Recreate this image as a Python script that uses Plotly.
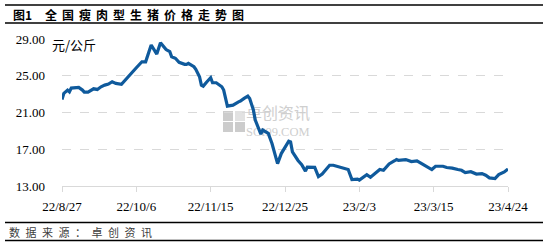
import plotly.graph_objects as go

dates = [
    "2022-08-27", "2022-08-28", "2022-08-30", "2022-08-31", "2022-09-01", "2022-09-03",
    "2022-09-05", "2022-09-07", "2022-09-08", "2022-09-10", "2022-09-12", "2022-09-13",
    "2022-09-15", "2022-09-17", "2022-09-19", "2022-09-21", "2022-09-23", "2022-09-25",
    "2022-09-28", "2022-09-30", "2022-10-03", "2022-10-06", "2022-10-09", "2022-10-11",
    "2022-10-14", "2022-10-17", "2022-10-19", "2022-10-22", "2022-10-24", "2022-10-25",
    "2022-10-27", "2022-10-29", "2022-11-01", "2022-11-02", "2022-11-03", "2022-11-06",
    "2022-11-07", "2022-11-09", "2022-11-10", "2022-11-11", "2022-11-13", "2022-11-15",
    "2022-11-16", "2022-11-18", "2022-11-21", "2022-11-22", "2022-11-24", "2022-11-27",
    "2022-11-30", "2022-12-01", "2022-12-03", "2022-12-05", "2022-12-06", "2022-12-08",
    "2022-12-09", "2022-12-12", "2022-12-13", "2022-12-16", "2022-12-18", "2022-12-21",
    "2022-12-23", "2022-12-27", "2022-12-28", "2022-12-29", "2023-01-01", "2023-01-03",
    "2023-01-05", "2023-01-06", "2023-01-10", "2023-01-12", "2023-01-14", "2023-01-16",
    "2023-01-18", "2023-01-20", "2023-01-28", "2023-01-30", "2023-02-02", "2023-02-03",
    "2023-02-07", "2023-02-09", "2023-02-12", "2023-02-14", "2023-02-16", "2023-02-19",
    "2023-02-22", "2023-02-23", "2023-02-24", "2023-02-28", "2023-03-03", "2023-03-06",
    "2023-03-09", "2023-03-14", "2023-03-16", "2023-03-20", "2023-03-22", "2023-03-25",
    "2023-03-28", "2023-03-30", "2023-04-01", "2023-04-04", "2023-04-07", "2023-04-10",
    "2023-04-12", "2023-04-14", "2023-04-17", "2023-04-19", "2023-04-22", "2023-04-24",
]
prices = [
    22.42, 23.08, 23.44, 23.25, 23.66, 23.73,
    23.73, 23.44, 23.22, 23.22, 23.44, 23.58,
    23.51, 23.80, 23.98, 24.09, 24.35, 24.17,
    24.06, 24.53, 25.26, 25.87, 26.52, 26.52,
    28.35, 27.36, 28.60, 27.85, 27.62, 27.07,
    26.90, 26.46, 26.24, 26.24, 26.35, 25.98,
    25.70, 24.89, 23.98, 23.87, 24.35, 24.78,
    24.24, 24.24, 23.80, 23.44, 21.69, 21.80,
    22.16, 22.24, 22.53, 22.78, 22.53, 21.26,
    20.17, 18.64, 19.08, 18.72, 17.63, 15.44,
    16.53, 17.88, 17.80, 16.71, 15.78, 15.33,
    14.62, 15.05, 15.03, 14.02, 14.30, 14.85,
    15.26, 15.26, 14.79, 13.70, 13.75, 13.65,
    14.24, 13.95, 14.45, 14.79, 14.71, 15.40,
    15.75, 15.88, 15.80, 15.88, 15.66, 15.73,
    15.37, 14.79, 15.15, 15.15, 15.01, 14.95,
    14.79, 14.71, 14.46, 14.55, 14.30, 14.35,
    14.17, 13.88, 13.81, 14.24, 14.53, 14.85,
]

tick_dates = ["2022-08-27", "2022-10-06", "2022-11-15", "2022-12-25",
              "2023-02-03", "2023-03-15", "2023-04-24"]
tick_labels = ["22/8/27", "22/10/6", "22/11/15", "22/12/25", "23/2/3", "23/3/15", "23/4/24"]
y_ticks = [13, 17, 21, 25, 29]
y_labels = ["13.00", "17.00", "21.00", "25.00", "29.00"]

title_label = "图1"
title_chars = list("全国瘦肉型生猪价格走势图")
source_text = "数\u2002据\u2002来\u2002源\u2002：\u2002卓\u2002创\u2002资\u2002讯"
unit_text = "元/公斤"
wm_name = "卓创资讯"
wm_site = "SCI99.COM"

W, H = 556, 243
L, R, T, B = 62, 48, 39, 57
pw, ph = W - L - R, H - T - B


def px(x):
    return (x - L) / pw


def py(y):
    return (H - B - y) / ph


fig = go.Figure()

# watermark text (drawn under the line)
fig.add_trace(go.Scatter(
    x=["2022-12-04"], y=[20.7], mode="text", text=[wm_name], textposition="middle right",
    textfont=dict(family="Noto Sans CJK SC", size=16, color="#cfcfcf"),
    hoverinfo="skip", showlegend=False,
))
fig.add_trace(go.Scatter(
    x=["2022-12-04"], y=[18.75], mode="text", text=[wm_site], textposition="middle right",
    textfont=dict(family="Liberation Serif", size=12.5, color="#cfcfcf"),
    hoverinfo="skip", showlegend=False,
))

fig.add_trace(go.Scatter(
    x=dates, y=prices, mode="lines",
    line=dict(color="#0F5A9C", width=3.2, shape="linear"),
    hoverinfo="skip", showlegend=False,
))

# watermark logo squares
for (x0, y0, x1, y1, c) in [(223, 111, 233, 121, "#cccccc"), (235, 111, 245, 121, "#e2e2e2"),
                             (223, 122, 233, 132, "#cccccc"), (235, 122, 245, 132, "#cccccc")]:
    fig.add_shape(type="rect", xref="paper", yref="paper",
                  x0=px(x0), x1=px(x1), y0=py(y1), y1=py(y0),
                  fillcolor=c, line=dict(width=0), layer="below")

# header / footer rules
for yy in [5, 23, 222.5, 240.5]:
    fig.add_shape(type="line", xref="paper", yref="paper",
                  x0=px(5), x1=px(543), y0=py(yy), y1=py(yy),
                  line=dict(color="#000000", width=1.6))

title_font = dict(family="Noto Sans CJK SC", size=12, color="#000000")
fig.add_annotation(xref="paper", yref="paper", x=px(11), y=py(14), xanchor="left", yanchor="middle",
                   text="<b>" + title_label + "</b>", showarrow=False, font=title_font)
for i, ch in enumerate(title_chars):
    fig.add_annotation(xref="paper", yref="paper", x=px(51 + 17.0 * i), y=py(14),
                       xanchor="center", yanchor="middle",
                       text="<b>" + ch + "</b>", showarrow=False, font=title_font)

fig.add_annotation(xref="paper", yref="paper", x=px(7), y=py(232), xanchor="left", yanchor="middle",
                   text=source_text, showarrow=False,
                   font=dict(family="Noto Sans CJK SC", size=11, color="#404040"))
fig.add_annotation(xref="paper", yref="paper", x=px(50), y=py(44), xanchor="left", yanchor="middle",
                   text=unit_text, showarrow=False,
                   font=dict(family="Noto Sans CJK SC", size=13, color="#000000"))

fig.update_layout(
    width=W, height=H,
    margin=dict(l=L, r=R, t=T, b=B),
    paper_bgcolor="#ffffff", plot_bgcolor="#ffffff",
    showlegend=False,
)
fig.update_xaxes(
    type="date", range=["2022-08-27", "2023-04-24"],
    tickmode="array", tickvals=tick_dates, ticktext=tick_labels,
    showgrid=False, zeroline=False,
    showline=True, linecolor="#d9d9d9", linewidth=1,
    ticks="outside", ticklen=5, tickcolor="#d9d9d9",
    tickfont=dict(family="Liberation Serif", size=13, color="#000000"),
    ticklabelstandoff=3,
)
fig.update_yaxes(
    range=[13, 29], tickmode="array", tickvals=y_ticks, ticktext=y_labels,
    showgrid=True, gridcolor="#d9d9d9", griddash="dash", gridwidth=1,
    zeroline=False, showline=False, ticks="",
    tickfont=dict(family="Liberation Serif", size=13, color="#000000"),
    ticklabelstandoff=16,
)

fig.write_html("out.html")
